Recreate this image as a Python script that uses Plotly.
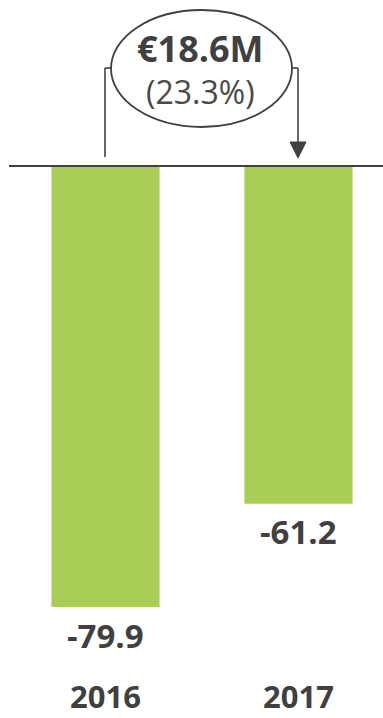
import plotly.graph_objects as go

categories = ["2016", "2017"]
values = [-79.9, -61.2]
value_labels = ["-79.9", "-61.2"]
delta_label = "€18.6M"
pct_label = "(23.3%)"

W, H = 383, 718
BAR = "#A9CD57"
DARK = "#404040"
FONT = "Open Sans"

def px(x):
    return x / W

def py(y):
    return 1 - y / H

fig = go.Figure()
fig.add_trace(go.Bar(
    x=[0, 1], y=values, width=0.56, marker=dict(color=BAR, line=dict(width=0)),
    hoverinfo="skip", showlegend=False,
))

annotations = []
for i, (v, lab, cat) in enumerate(zip(values, value_labels, categories)):
    annotations.append(dict(x=i, y=v, xref="x", yref="y", text=f"<b>{lab}</b>",
                            showarrow=False, yanchor="middle", yshift=-28,
                            font=dict(family=FONT, size=33, color=DARK)))
    annotations.append(dict(x=i, y=0, xref="x", yref="paper", text=f"<b>{cat}</b>",
                            showarrow=False, yanchor="bottom", borderpad=0,
                            font=dict(family=FONT, size=31, color=DARK)))

annotations.append(dict(
    x=px(200), y=py(68), xref="paper", yref="paper",
    text=(f"<span style='font-size:36px;color:{DARK}'><b>{delta_label}</b></span>"
          f"<br>{pct_label}"),
    showarrow=False, yanchor="middle", borderpad=0,
    font=dict(family=FONT, size=32, color="#4a4a4a")))

line = dict(color=DARK, width=1.6)
shapes = [
    # baseline
    dict(type="line", xref="paper", yref="y", x0=px(9), x1=1, y0=0, y1=0,
         line=dict(color=DARK, width=2.2)),
    # ellipse
    dict(type="circle", xref="paper", yref="paper", x0=px(111), x1=px(292),
         y0=py(127), y1=py(10), line=dict(color=DARK, width=1.8), fillcolor="white"),
    # left bracket
    dict(type="line", xref="paper", yref="paper", x0=px(105), x1=px(105),
         y0=py(157), y1=py(68), line=line),
    dict(type="line", xref="paper", yref="paper", x0=px(105), x1=px(112),
         y0=py(68), y1=py(68), line=line),
    # right bracket
    dict(type="line", xref="paper", yref="paper", x0=px(291), x1=px(298),
         y0=py(68), y1=py(68), line=line),
    dict(type="line", xref="paper", yref="paper", x0=px(298), x1=px(298),
         y0=py(68), y1=py(143), line=line),
    dict(type="path", xref="paper", yref="paper",
         path=f"M {px(290)} {py(142)} L {px(306)} {py(142)} L {px(298)} {py(158)} Z",
         fillcolor=DARK, line=dict(color=DARK, width=1)),
]

fig.update_layout(
    width=W, height=H, margin=dict(l=0, r=0, t=0, b=0),
    paper_bgcolor="white", plot_bgcolor="white",
    xaxis=dict(range=[-105.5 / 193, (383 - 105.5) / 193], visible=False, fixedrange=True),
    yaxis=dict(range=[-(718 - 166) / 5.52, 166 / 5.52], visible=False, fixedrange=True),
    annotations=annotations, shapes=shapes, showlegend=False,
)

fig.write_html("out.html", config={"displayModeBar": False})
